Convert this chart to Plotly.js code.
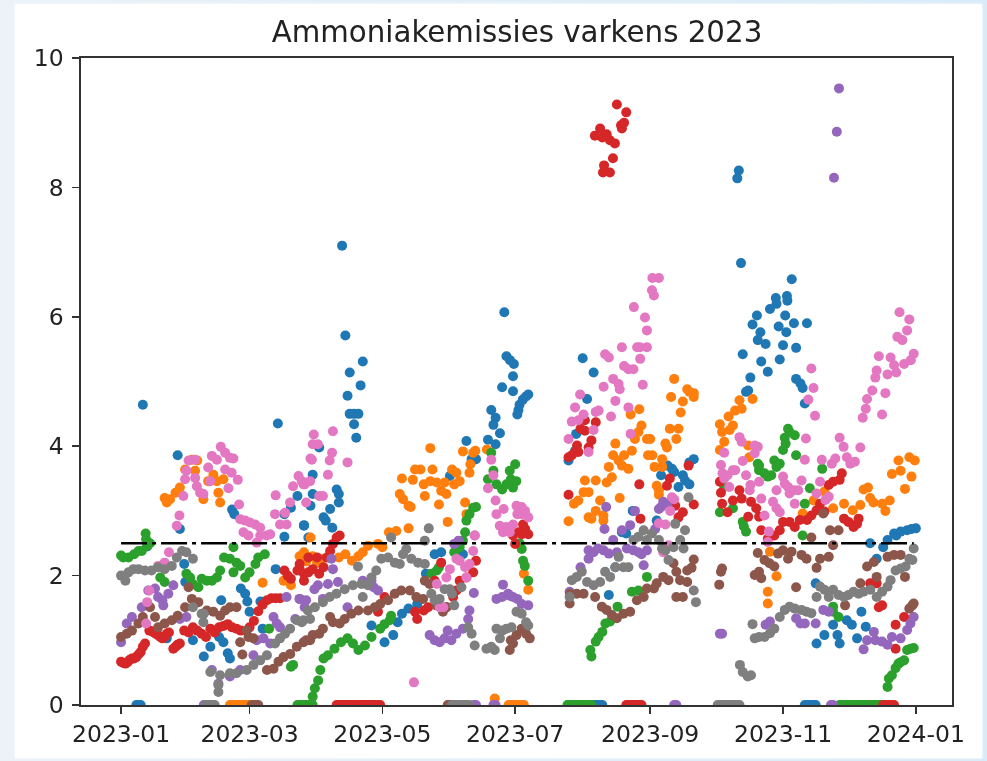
<!DOCTYPE html>
<html><head><meta charset="utf-8">
<script src="https://cdn.plot.ly/plotly-3.0.1.min.js"></script>
<style>
html,body{margin:0;padding:0;width:987px;height:761px;overflow:hidden;background:linear-gradient(90deg,#ebf2f8,#d8ebf8)}
#sheet{position:absolute;left:15px;top:4px;width:967px;height:754px;background:#fff;box-shadow:0 0 3px #fff}
#chart{position:absolute;left:0;top:0;width:987px;height:761px;filter:blur(0.6px)}
</style></head><body><div id="sheet"></div><div id="chart"></div>
<script>
const chartTitle = "Ammoniakemissies varkens 2023";
const xTickLabels = ["2023-01","2023-03","2023-05","2023-07","2023-09","2023-11","2024-01"];
const yTicks = [0,2,4,6,8,10];
const limitLine = [[0,2.5],[364,2.5]];

// each point: [day of 2023 counted from 1 January, emission value]
const blue = [[10,4.64],[26,3.86],[72,4.35],[51,3.02],[52,2.95],[27,2.72],[12,2.45],[29,2.18],[29.5,1.9],[46,1.62],[21,1.03],[33,1.0],[26,.93],[38,.75],[41,.9],[45,1.05],[47,.97],[49,.8],[50,.72],[55,1.8],[57,1.72],[58,1.6],[59,1.44],[64,1.6],[65,1.18],[71,2.1],[75,2.6],[84,2.77],[81,3.23],[78,3.05],[75,2.95],
[101.5,7.1],[103,5.71],[105,5.14],[111,5.31],[110,4.94],[104,4.78],[105,4.5],[107,4.5],[109,4.5],[107,4.34],[108,4.13],[91,3.98],[88,3.56],[99,3.33],[100,3.26],[100,3.13],[88,3.26],[87,3.08],[96,3.03],[93,2.9],[94,2.85],[97,2.74],[84,2.78],[86,2.59],
[115,1.23],[121,.97],[125,1.08],[127,1.28],[129,1.41],[132,1.49],[136,1.56],[144,2.33],[147,2.36],[157,2.33],[140,2.03],[151,3.54],[158.6,4.08],[161,3.8],[163,3.8],[168.5,4.1],[172,4.03],[174,4.2],[171,4.33],[172,4.44],[170,4.56],[175,4.91],[180,4.85],[182,4.49],[182.5,4.56],[183,4.64],[184.5,4.72],[186,4.77],[187,4.8],[176,6.07],[177,5.39],[178.6,5.33],[180.4,5.27],[180,5.08],
[212,5.36],[217,5.14],[214,4.73],[209,4.19],[205.5,3.78],[208.5,3.93],[224,1.7],[227,2.13],[230,2.67],[232,2.65],[235,3.0],[246,2.85],[253,3.65],[251,3.7],[254,3.6],[248,3.55],[258,3.55],[259,3.47],[261,3.41],[256,3.37],[263,3.8],[261,3.75],
[283.7,8.26],[283,8.14],[284.7,6.83],[285.5,5.42],[288,4.86],[287,4.84],[289,5.06],[294,5.31],[297,5.15],[302.5,5.34],[310,5.52],[304,5.56],[296,5.58],[292.4,5.64],[293.6,5.76],[290,5.88],[292,6.02],[298,6.12],[301,6.2],[306,6.25],[302,5.85],[305,6.02],[305.5,5.76],[309,5.9],[315,5.9],[308,6.58],[300.7,6.29],[305.8,6.32],[310,5.04],[312,4.97],[313,4.9],[314,4.66],
[319,1.88],[319.4,.95],[323,1.08],[327,1.24],[329,1.08],[330,.95],[333.3,1.31],[335.6,1.24],[338,1.03],[342,1.21],[340,1.44],[344,2.5],[350,2.44],[352,2.55],[355,2.65],[358,2.68],[361,2.7],[365,2.73],[347,2.26],[363,2.72],[356,2.62]];
const blueZeros = [7,8,9,217,218,219,220,221,314,315,316,317,318,319];

const orange = [[20,3.2],[21,3.13],[22.5,3.18],[25,3.28],[27,3.36],[29.4,3.64],[34,3.62],[32.5,3.79],[35,3.78],[37.8,3.18],[42.4,3.56],[44,3.46],[44.7,3.28],[45.5,3.13],[47,3.49],[40,3.46],[65,1.89],[74.6,1.92],[78,1.85],[84,2.36],[87,2.59],[82,2.3],[85,2.22],[88,2.3],[90,2.2],[92,2.26],[100,2.28],[103,2.33],[106,2.23],[109,2.3],[111,2.36],[113.4,2.46],[118,2.49],[120,2.44],[123,2.67],[126.4,2.69],[132,2.73],
[128,3.26],[129.5,3.18],[132,3.08],[133,3.06],[129,3.5],[134,3.48],[135,3.64],[137.5,3.64],[139.5,3.23],[139,3.41],[142,3.97],[143,3.64],[142,3.46],[145,3.44],[146,3.1],[147,3.31],[149.4,3.26],[150,2.83],[148.6,3.44],[152,3.64],[153,3.41],[155.5,3.46],[154,3.59],[160,3.59],[160.4,3.72],[157,3.92],[161.7,3.9],[162.7,3.93],[168,3.95],[158,3.13],[158.6,2.95],[171.6,.1],[185,2.03],[187,1.78],
[205.5,2.84],[214.7,2.9],[216,2.88],[221.5,2.85],[221.5,2.93],[218,3.0],[220,3.16],[208,3.11],[210,3.16],[213,3.47],[218,3.47],[212.4,3.29],[214.7,3.29],[224,3.68],[223,3.44],[225.4,3.52],[229,3.2],[227,4.04],[226,3.86],[228.5,3.78],[231,3.86],[233,3.65],[230,3.7],[234.6,3.93],[234,4.49],[238,4.57],[239,4.32],[237.6,4.22],[236,4.11],[241.5,4.11],[243,4.11],[250,4.04],[250.7,3.98],[255,4.11],[252,4.27],[256,4.27],[257,4.52],[252.6,4.76],[254,5.04],[258,4.69],[260,4.88],[261,4.84],[263,4.76],[263,4.82],[242,3.86],[244,3.86],[245,3.68],[248.5,3.8],[248.5,3.68],[246,3.39],[247,3.32],[247,3.25],
[275,4.34],[279,4.46],[284,4.71],[285,4.58],[282,4.55],[290,4.73],[281,4.32],[279.5,4.25],[276,4.22],[277,4.07],[275,3.94],[288,4.01],[288.5,3.83],[298,2.37],[301,1.99],[297,1.75],[297,1.57],[313,2.96],[318,3.16],[323,3.3],[327,3.04],[332,3.11],[336,3.01],[339.5,3.09],[341,3.33],[343,3.36],[344,3.2],[345.5,3.13],[349.5,3.11],[351,3.0],[353,3.16],[354,3.57],[357,3.78],[358,3.62],[363,3.53],[362,3.83],[364.5,3.78],[360,3.34]];
const orangeZeros = [50,51,52,53,54,55,56,57,58,59,178,179,180,181,182,183,184,185];

const green = [[0,2.31],[1,2.28],[3.4,2.28],[6,2.33],[8,2.38],[9.5,2.38],[12,2.46],[11.5,2.56],[11.3,2.65],[13.3,2.5],[20,1.9],[18,1.97],[30,2.03],[31.7,1.97],[33,1.87],[35.5,1.82],[37,1.95],[39.4,1.92],[41.7,1.92],[44,1.97],[45.5,2.08],[47.3,2.28],[50,2.26],[51.6,2.05],[53,2.2],[54.7,2.15],[57,1.97],[59,2.05],[61.7,2.18],[63,2.28],[66,2.33],[51.6,2.44],[68,1.18],[78,.59],[79,.62],
[88,.13],[89,.26],[90.5,.38],[91.5,.54],[93,.72],[95,.77],[98,.87],[101,.97],[104,1.03],[106.5,.95],[109,.85],[112,.92],[115,1.05],[119,1.18],[123.4,1.31],[121,1.25],[124,1.38],[142.5,2.03],[145,2.08],[146,2.13],[153,2.36],[155.5,2.44],[157,2.54],[158,2.67],[158.6,2.85],[160,2.95],[161.7,3.05],[163,3.06],[170,3.9],[171,3.62],[168.5,3.49],[172.4,3.41],[175,3.33],[177,3.41],[179,3.49],[178.5,3.62],[181,3.72],[180,3.36],[181.5,3.46],[184,2.41],[184.6,2.23],[185.4,2.15],[187,1.92],[183,2.5],
[216,.75],[215.5,.85],[218,.98],[219.3,1.05],[221,1.13],[222.4,1.26],[224.6,1.29],[228,1.52],[234.6,1.75],[237.6,1.77],[241.5,1.98],
[275,2.98],[277,3.37],[281,3.04],[285.5,2.83],[287,2.68],[286,2.76],[292.4,3.73],[293,3.63],[295.5,3.58],[297,3.53],[298.6,3.55],[301,3.68],[302.5,3.73],[293,3.7],[300,3.78],[304,3.94],[305.2,4.04],[304.8,4.13],[309.4,4.17],[306.3,4.27],[307,4.22],[310,3.86],[314,3.11],[316.3,3.35],[313,2.62],[322,3.65],[327,1.44],[329.5,1.36],[327,1.52],
[352,.28],[352.6,.41],[354,.46],[355.7,.57],[357,.64],[359.6,.69],[361,.85],[364,.88],[362.5,.87],[358,.66]];
const greenZeros = [81,82,83,84,85,86,87,88,205,206,207,208,209,210,211,212,213,214,215,216,330,331,332,333,334,335,336,337,338,339,340,341,342,343,344,345,346,347,348,349,350];

const red = [[0,.67],[1,.65],[2,.64],[3,.66],[4,.7],[5,.72],[6,.72],[7,.74],[8,.78],[9,.82],[10,.9],[11,.95],[24,.87],[25,.9],[26,.93],[27,.95],[13,1.15],[14,1.14],[15,1.12],[16,1.1],[17,1.08],[18,1.05],[19,1.03],[20,1.05],[21,1.1],[22,1.12],[29,1.15],[31,1.12],[33,1.2],[35,1.15],[37,1.1],[39,1.05],[41,1.18],[43,1.12],[45,1.2],[47,1.22],[49,1.25],[51,1.2],[53,1.18],[55,1.15],[59,1.2],[61,1.3],[63,1.45],[65,1.55],[67,1.62],[69,1.65],[71,1.65],[73,1.65],
[75,2.08],[76.5,2.0],[78,1.95],[81,2.08],[82,2.18],[84,2.03],[86,2.05],[82,2.1],[84,1.92],[86,2.28],[88,2.1],[90,2.28],[91,2.03],[93,2.13],[94.5,2.28],[96,2.38],[97.3,2.49],[99,2.59],[100.4,2.62],
[121,1.67],[118,1.44],[135,1.44],[136,1.33],[139,1.46],[141,1.51],[147,2.2],[144,1.92],[154,1.77],[155.5,1.92],[158.6,1.97],[161.7,2.05],[163,2.23],[152.5,1.67],[149.4,1.51],[181,2.49],[182.5,2.67],[184.6,2.79],[187,2.64],[184,2.64],[180,2.62],[185.6,2.72],
[205.5,3.25],[205.5,3.83],[207,3.86],[208.5,3.91],[210,3.91],[209.4,4.01],[211,4.27],[213,4.24],[214.7,3.98],[216,4.09],[218,4.37],[213,4.4],[238,3.41],[252,3.5],[250.7,3.39],[260.6,3.7],[254.5,3.08],[258,2.98],[263,3.1],[256,2.9],[238.5,2.88],
[217.6,8.8],[220,8.91],[221,8.77],[223,8.82],[224.5,8.73],[226.8,8.68],[227.7,9.28],[230,8.91],[232,9.16],[229.6,8.96],[231,9.0],[221.8,8.34],[221.3,8.23],[224.5,8.23],[225.9,8.45],
[275,3.45],[275.5,3.28],[276,3.11],[278.5,2.98],[281,3.16],[284,3.32],[285,3.19],[288,2.91],[289.3,3.14],[291.7,3.04],[293,2.91],[294,2.7],[297,2.57],[300,2.62],[302.5,2.7],[304,2.83],[307,2.83],[309.4,2.75],[311.7,2.86],[315,2.86],[317,2.93],[319.4,3.01],[321,3.11],[323,2.99],[325,3.4],[327,3.45],[331,3.58],[330,3.48],[332,2.88],[334,2.83],[336.4,2.75],[338.7,2.88],[338,2.8],[349.5,1.54],[348,1.51],[355.7,1.24],[359.6,1.36],[355.7,.87],[344,1.88],[347,1.88]];
const redZeros = [99,100,101,102,103,104,105,106,107,108,109,110,111,112,113,114,115,116,117,118,119,232,233,234,235,236,237,238,239,350,351,352,353,354,355];

const purple = [[0,.97],[2.6,1.26],[5,1.36],[9.5,1.51],[12.5,1.77],[15.6,1.8],[17,1.67],[19.4,1.54],[21.7,1.72],[24,1.85],[19,1.62],[30,1.36],[27,1.33],[41.7,.54],[44.7,.33],[50,.44],[54.7,.54],[60.8,.77],[62.3,1.0],[65.4,1.03],[71.5,1.26],[73,1.2],[76,1.67],[82,1.64],[85,1.62],[80,1.33],[70,1.36],[68.5,.95],
[82,1.64],[84.3,1.51],[88.8,1.79],[90.4,1.85],[92.7,1.64],[95,1.87],[96.6,2.26],[97.3,2.1],[99.6,1.9],[104,1.51],[111,1.92],[118,1.77],[115,1.92],[116,1.82],
[141.7,1.08],[144,1.0],[146.3,.97],[148.6,1.03],[150,1.15],[151.7,1.0],[154,1.1],[157,1.18],[160,1.46],[159.4,1.33],[162,1.73],[153,2.49],[155,2.54],[162.4,2.62],[175.4,1.86],[172.4,1.64],[175,1.67],[177.7,1.72],[180,1.67],[182,1.64],[184,1.56],[187,1.54],[178.5,1.69],
[206,1.75],[211,2.13],[214.7,2.26],[214.7,2.39],[217,2.36],[219,2.42],[221.6,2.39],[224,2.34],[226,2.55],[227.7,2.36],[230,2.7],[233.8,2.78],[232.3,2.42],[235.3,2.39],[237.6,2.36],[240,2.16],[241.5,2.39],[222.8,3.06],[222,2.72],[236,3.0],[245.3,2.72],[247,3.03],[249,3.14],[248,3.06],[251,3.11],[239,2.33],
[276,1.1],[275,1.1],[296,1.24],[298,1.29],[310,1.34],[312,1.26],[314,1.26],[319,1.26],[322.5,1.47],[325,1.44],[341,.86],[342.6,1.0],[345.7,1.13],[346.4,1.0],[349.5,.98],[352,.93],[354,1.05],[358,1.03],[361,1.16],[364,1.36],[362.5,1.26],
[329.7,9.53],[328.7,8.86],[327.4,8.15]];
const purpleZeros = [38,39,40,41,42,162,163,171,172,254,255,326,327];

const brown = [[0,1.05],[2.6,1.1],[5,1.15],[8,1.26],[10,1.36],[13.3,1.51],[15.6,1.36],[17,1.2],[20,1.26],[23.3,1.31],[26,1.38],[29.4,1.51],[32.5,1.64],[35.5,1.59],[39.4,1.46],[42.4,1.44],[45.5,1.38],[47.8,1.46],[50,1.51],[53,1.51],[31,1.82],[55.7,.78],[54.7,.97],[58.5,1.05],[60.8,1.03],[57.7,1.15],[67,.54],[70,.56],[72.3,.67],[74.6,.74],[77.7,.79],[80.7,.9],[83.8,.97],[86.8,1.0],
[85,1.0],[88,1.08],[91,1.1],[92.7,1.18],[96,1.36],[97.3,1.28],[100.4,1.26],[102.7,1.33],[105.8,1.41],[109,1.46],[113.4,1.46],[116.5,1.51],[119,1.56],[122.6,1.62],[125.7,1.72],[128.7,1.77],[132.6,1.77],[135.6,1.67],[138.7,1.64],[139.5,1.92],[141.7,1.87],[144.8,1.54],[147.8,1.44],[149.5,1.51],
[178.5,.85],[180,.95],[181.6,1.08],[184,1.18],[186,1.1],[187.7,1.03],[179,1.0],
[206,1.57],[206.2,1.72],[209.3,1.72],[212.4,1.72],[217.7,1.67],[220.8,1.52],[223,1.47],[225.4,1.39],[227.7,1.34],[230.7,1.41],[233.8,1.44],[236.9,1.62],[240,1.67],[241.5,1.8],[244.7,1.8],[246,1.88],[249,1.98],[251.4,1.93],[253.7,2.19],[255,2.06],[256.7,1.93],[260,1.9],[255,1.67],[258,1.67],[260,2.08],[263,2.25],[262,2.12],
[274.7,1.86],[276,2.11],[275.5,2.06],[292.4,2.35],[291,2.01],[293,2.06],[294,1.96],[295.5,2.24],[297.8,2.19],[300,2.14],[301.7,2.34],[304,2.39],[306.3,2.26],[307.9,2.37],[312.5,2.32],[314.8,2.26],[317,2.59],[319.4,2.12],[321,2.26],[325,2.29],[327,2.47],[325.6,2.7],[329.5,2.7],[310,1.82],[322.5,2.96],[332.5,1.54],[342.6,2.14],[345.7,2.21],[339.5,1.88],[347,1.98],[352,2.29],[355,2.32],[358,2.32],[360,1.98],[363.4,1.54],[362,1.49],[364,1.57]];
const brownZeros = [60,61,62,63,150,151,152,153,154,155,156,157];

const pink = [[12,1.59],[11.5,1.26],[13,1.77],[22,2.36],[20,2.2],[17,2.15],[25.6,2.77],[26.8,2.93],[28.6,3.23],[29.4,3.49],[30,3.62],[31,3.78],[34,3.79],[34,3.51],[34.8,3.38],[36.3,3.28],[37.8,3.26],[40,3.67],[40.9,3.46],[41.7,3.85],[44,3.79],[45.8,3.99],[47.8,3.9],[47.8,3.64],[50,3.82],[51.6,3.81],[49.3,3.35],[50.8,3.59],[53.6,3.48],[54.2,3.1],[54.7,2.87],[57,2.85],[59.2,2.82],[61.6,2.79],[63.9,2.74],[56.2,2.67],[58.5,2.62],[63.9,2.62],[66.9,2.62],[68.5,2.64],[62.3,2.51],[70.7,2.95],[71,3.24],[73,2.79],[76,2.79],[75.3,2.97],[77.6,3.13],[81.5,3.54],[79,3.38],[83.8,3.41],[86.8,3.46],[87.6,3.79],
[83,3.46],[84.3,3.41],[85,3.13],[87,3.81],[88,4.03],[88.5,4.18],[90.4,4.03],[91,3.23],[92.7,3.23],[95,3.56],[95.8,3.78],[96.9,3.9],[97.3,4.23],[104,3.75],
[134.5,.35],[145,1.87],[146.3,1.51],[148,1.51],[149.4,1.97],[151,2.1],[154,2.26],[155.5,2.23],[158,2.13],[160,2.18],[161.7,2.38],[162.4,2.62],[158.6,1.97],
[170,3.79],[171,3.55],[168.5,3.35],[172,3.16],[172.4,2.95],[175.7,3.03],[181.6,3.08],[184,3.06],[184,2.95],[187,2.9],[173.9,2.77],[175.4,2.67],[177,2.75],[180,2.79],[182,2.95],[178.5,2.67],[185.5,3.0],
[205.5,4.11],[207,4.38],[208.5,4.6],[210.8,4.8],[212.4,4.49],[210,4.4],[214.7,3.91],[217,4.25],[219.3,4.55],[218,4.53],[221.6,4.92],[222.3,5.42],[224,5.37],[227,4.7],[225,4.46],[226,5.04],[228.5,4.96],[229,4.88],[230,5.53],[231,5.24],[233,5.19],[235.3,5.19],[233,4.6],[234,4.19],[237,5.53],[241.5,5.53],[238.4,5.35],[239.6,4.95],
[244,6.6],[247,6.6],[243.8,6.41],[244.7,6.33],[235.5,6.15],[240.6,5.99],[241.5,5.79],[238.3,5.53],
[251.4,2.47],[247,2.81],[250,2.79],[252.2,3.0],[253,3.21],[254,3.18],[249,2.36],
[275.5,3.71],[277,3.9],[276.2,3.58],[278.5,3.55],[281,3.63],[277,3.5],[279.3,3.37],[282,3.63],[284,4.14],[285,4.07],[285.5,3.77],[287,3.55],[288.7,3.32],[291,4.01],[292.4,3.99],[291,3.89],[289,3.4],[293,3.45],[294,3.19],[295.5,2.93],[297.5,2.68],[297,2.52],[299.4,3.14],[301,3.04],[302.5,2.98],[301,3.32],[304,3.53],[304.8,3.42],[306.3,3.37],[307,3.27],[309.4,3.11],[311,3.32],[312.5,3.47],[309,3.32],[314,3.79],[314.5,4.12],[315.6,4.72],[318.7,4.47],[318,4.9],[317,5.2],
[321,3.45],[319.4,3.27],[321.8,3.79],[323.5,3.17],[325,3.22],[326.4,3.73],[328,3.81],[330,4.13],[331.8,3.99],[333.3,3.83],[334.9,3.73],[337,3.76],[339.5,3.98],
[340.6,4.44],[342,4.58],[342.6,4.73],[345,4.86],[349.5,4.49],[351,4.82],[346.4,5.06],[347,5.17],[348,5.39],[352,5.11],[353.4,5.37],[355,5.25],[356,5.14],[359.6,5.27],[362.7,5.33],[364,5.43],[356.5,5.69],[358.8,5.64],[361,5.79],[362,5.96],[357.5,6.07]];

const gray = [[0,2.0],[2,1.92],[3.4,2.05],[5.7,2.1],[8,2.1],[11,2.08],[14,2.08],[17,2.13],[20,2.1],[23.3,2.15],[25.6,2.28],[28,2.38],[30,2.36],[33,2.26],[33,1.51],[37,1.41],[37.8,1.28],[38,1.41],[41,.51],[45.5,.46],[44.7,.2],[44.7,.31],[50,.49],[53,.49],[57.7,.54],[60.8,.62],[63.9,.69],[67,.77],[70.7,.95],[73,1.03],[75.3,1.1],[77.6,1.18],[80.7,1.31],[83.8,1.31],[86.8,1.33],
[83,1.28],[85.8,1.46],[89,1.51],[92.7,1.59],[95.8,1.67],[98.9,1.72],[102.7,1.79],[106.5,1.85],[111,1.67],[110.4,1.87],[113.4,1.85],[115,1.97],[117.2,2.08],[119.5,2.26],[122.6,2.28],[125.7,2.2],[128,2.18],[129.5,2.33],[131,2.41],[133.3,2.26],[136.4,2.2],[139.5,2.18],[124,2.59],[108.8,2.14],[139.5,2.54],[141.3,2.73],
[142.5,1.72],[144,1.62],[146.3,1.64],[148.6,1.79],[151,1.79],[152,1.72],[153,1.54],[156.3,1.82],[159.4,1.2],[161,1.1],[162.4,.92],[167.8,.87],[170,.9],[171.6,.85],[172.4,1.18],[175,1.15],[177,1.18],[179.3,1.2],[174,1.03],[181.6,1.44],[184,1.41],[186,1.28],[187,1.23],
[206,1.67],[207,1.93],[209.3,1.98],[211.6,2.06],[214,1.9],[217,1.85],[220,1.9],[222.3,2.06],[224.6,1.98],[227,2.13],[228.5,2.29],[230.7,2.13],[233,2.13],[235.3,2.55],[237.6,2.6],[240,2.7],[241.5,2.55],[243.8,2.65],[247,2.55],[248.4,2.42],[251.4,2.24],[250,2.39],[253.7,2.44],[256.8,2.55],[258.3,2.42],[254.5,2.8],[259,2.7],[260.6,3.21],[263,1.77],[264,1.59],
[284.2,.62],[285.5,.51],[287.8,.44],[289.3,.46],[290,1.25],[291,1.03],[293,1.05],[295.5,1.05],[298,1.11],[300,1.18],[302.5,1.36],[304.8,1.47],[307,1.52],[309.4,1.49],[312.5,1.47],[314.8,1.44],[317,1.42],[319.4,1.67],[321,1.83],[323,1.78],[325,1.67],[327,1.78],[329.5,1.7],[332,1.67],[334,1.7],[336.4,1.75],[338.7,1.72],[341,1.75],[344.1,1.78],[347,1.67],[349.5,1.75],[352,1.83],[353.4,1.93],[355.7,2.08],[358,2.11],[360.3,2.14],[362,2.26],[363.4,2.24],[364,2.42]];
const grayZeros = [39,40,41,42,43,152,153,154,155,156,157,158,159,160,274,275,276,277,278,279,280,281,282,283,284];

const toDate = d => new Date(Date.UTC(2023,0,1) + d*86400000).toISOString().slice(0,19);
const series = [
 [blue,blueZeros,"#1f77b4"],[orange,orangeZeros,"#ff7f0e"],[green,greenZeros,"#2ca02c"],[red,redZeros,"#d62728"],
 [purple,purpleZeros,"#9467bd"],[brown,brownZeros,"#8c564b"],[pink,[],"#e377c2"],[gray,grayZeros,"#7f7f7f"]];
const traces = series.map(([pts,zeros,color]) => {
  const all = pts.concat(zeros.map(d=>[d,0])).sort((a,b)=>a[0]-b[0]);
  return {type:"scatter",mode:"markers",x:all.map(p=>toDate(p[0])),y:all.map(p=>p[1]),marker:{color,size:10,line:{width:0}},hoverinfo:"skip"};
});
traces.push({type:"scatter",mode:"lines",x:limitLine.map(p=>toDate(p[0])),y:limitLine.map(p=>p[1]),line:{color:"#000",width:2.6,dash:"26px,5px,4px,5px"},hoverinfo:"skip"});

const axisFont = {family:"DejaVu Sans",size:23.5,color:"#222"};
Plotly.newPlot("chart",traces,{
  width:987,height:761,showlegend:false,
  paper_bgcolor:"rgba(0,0,0,0)",plot_bgcolor:"rgba(0,0,0,0)",
  margin:{l:81,r:35,t:57.5,b:56,pad:0},
  title:{text:chartTitle,font:{family:"DejaVu Sans",size:29.3,color:"#222"},x:0.5238,xanchor:"center",y:0.958,yanchor:"middle"},
  xaxis:{type:"date",range:[toDate(-18.4),toDate(381.6)],tickvals:xTickLabels.map(s=>s+"-01"),ticktext:xTickLabels,tickangle:0,
    showgrid:false,zeroline:false,showline:true,mirror:true,linecolor:"#333",linewidth:1.6,ticks:"outside",ticklen:7,tickwidth:1.6,tickcolor:"#333",tickfont:axisFont},
  yaxis:{range:[0,10],tickvals:yTicks,ticktext:yTicks.map(String),ticklabelstandoff:4,
    showgrid:false,zeroline:false,showline:true,mirror:true,linecolor:"#333",linewidth:1.6,ticks:"outside",ticklen:7,tickwidth:1.6,tickcolor:"#333",tickfont:axisFont}
},{staticPlot:true,displayModeBar:false});
</script></body></html>
